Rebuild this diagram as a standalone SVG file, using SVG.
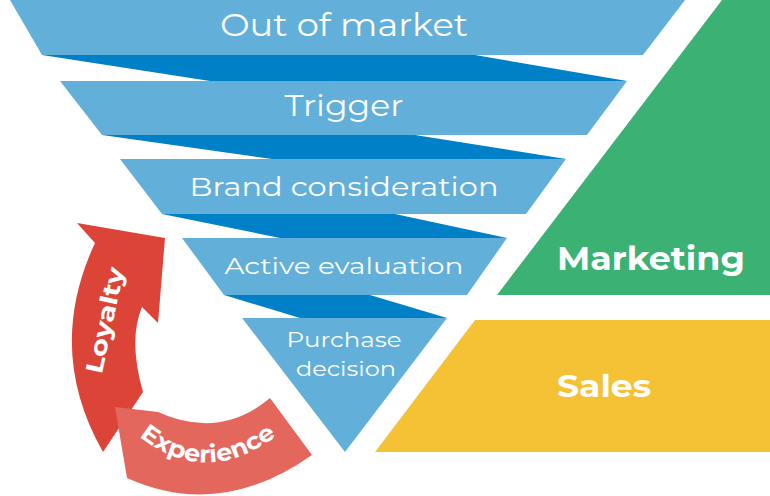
<svg xmlns="http://www.w3.org/2000/svg" width="770" height="496" viewBox="0 0 770 496">
<style>
.band{fill:#62afd9}.dark{fill:#0080c6}
.t{fill:#fff;font-family:Montserrat,"Open Sans","Noto Sans",sans-serif;text-anchor:middle}
.b{font-weight:bold}
</style>
<rect width="770" height="496" fill="#fff"/>
<g id="connectors">
<polygon class="dark" points="42,55 475,55 627,81 210,81"/>
<polygon class="dark" points="102,135 415,135 566,159 272,159"/>
<polygon class="dark" points="162,214 395,214 507,238 280,238"/>
<polygon class="dark" points="224,295 370,295 447,318 300,318"/>
</g>
<g id="out-of-market"><polygon class="band" points="10,0 685,0 643,55 42,55"/><text class="t" x="344" y="36" font-size="31" textLength="248" lengthAdjust="spacingAndGlyphs">Out of market</text></g>
<g id="trigger"><polygon class="band" points="60,81 627,81 587,135 102,135"/><text class="t" x="344" y="116" font-size="30" textLength="119" lengthAdjust="spacingAndGlyphs">Trigger</text></g>
<g id="brand"><polygon class="band" points="120,159 566,159 526,214 162,214"/><text class="t" x="344" y="196" font-size="27" textLength="309" lengthAdjust="spacingAndGlyphs">Brand consideration</text></g>
<g id="active"><polygon class="band" points="182,238 507,238 467,295 224,295"/><text class="t" x="344" y="274" font-size="23" textLength="239" lengthAdjust="spacingAndGlyphs">Active evaluation</text></g>
<g id="purchase"><polygon class="band" points="242,318 447,318 345,452"/><text class="t" x="344" y="347" font-size="21" textLength="115" lengthAdjust="spacingAndGlyphs">Purchase</text><text class="t" x="346" y="376" font-size="21" textLength="100" lengthAdjust="spacingAndGlyphs">decision</text></g>
<g id="marketing"><polygon fill="#3bb273" points="722,0 770,0 770,295 497,295"/><text class="t b" x="651" y="270" font-size="32" textLength="188" lengthAdjust="spacingAndGlyphs">Marketing</text></g>
<g id="sales"><polygon fill="#f4c234" points="475,320 770,320 770,452 375,452"/><text class="t b" x="604" y="397" font-size="31" textLength="94" lengthAdjust="spacingAndGlyphs">Sales</text></g>
<g id="loyalty">
<path fill="#dc4437" d="M77,223 L165,238 L158,323 L142,307 Q128,340 143,392 L103,452 Q45,350 95,243 Z"/>
<text class="t b" font-size="24" textLength="108" lengthAdjust="spacingAndGlyphs" transform="translate(113,322) rotate(-78)">Loyalty</text>
</g>
<g id="experience">
<path fill="#e4675e" d="M115,407 L158,412 Q220,440 270,398 L312,455 Q220,520 127,478 Z"/>
<path id="ep" d="M126,425 Q205,500 290,425" fill="none"/>
<text class="t b" font-size="24"><textPath href="#ep" startOffset="50%" textLength="150" lengthAdjust="spacingAndGlyphs">Experience</textPath></text>
</g>
</svg>
